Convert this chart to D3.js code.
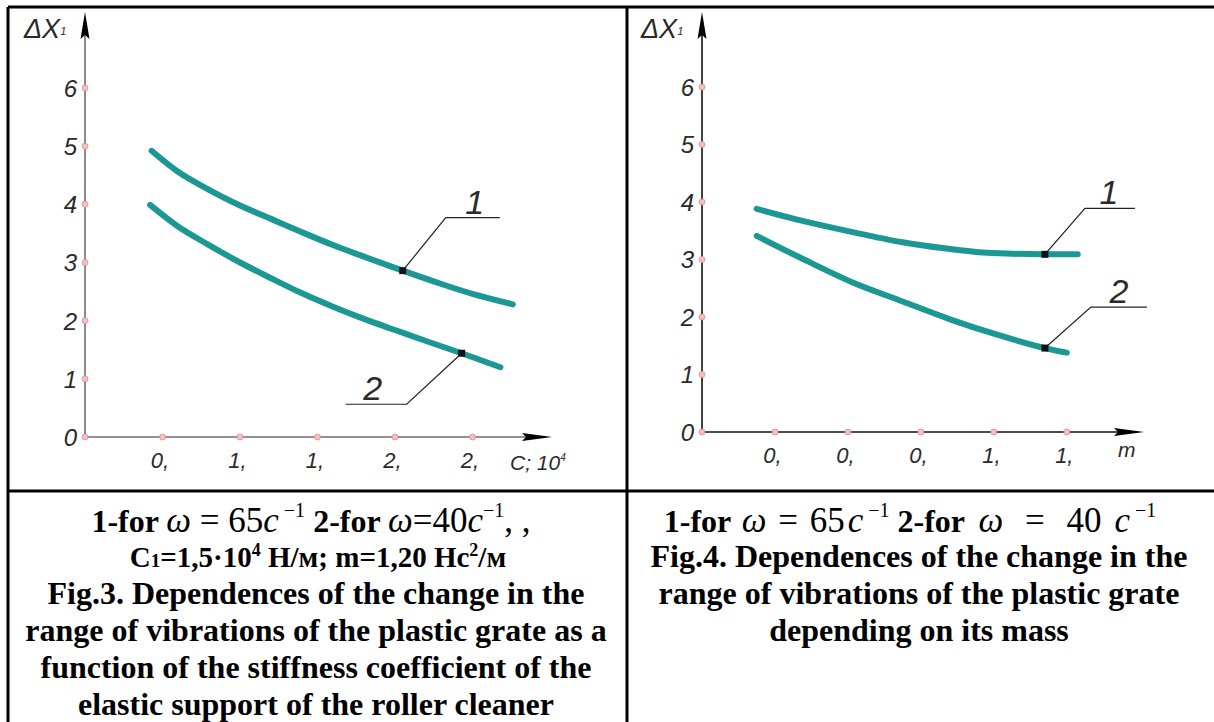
<!DOCTYPE html>
<html>
<head>
<meta charset="utf-8">
<script src="https://cdn.jsdelivr.net/npm/d3@7/dist/d3.min.js"></script>
<style>
  body{margin:0;background:#fff}
  .ax{font-family:"Liberation Sans",Arial,sans-serif;font-style:italic;fill:#2a2a2a}
  .cap{font-family:"Liberation Serif","Times New Roman",serif;font-weight:bold;fill:#000}
</style>
</head>
<body>
<svg id="chart" width="1214" height="722"></svg>
<script>
// ---- data ----
const yTicks=[0,1,2,3,4,5,6]

// Fig.3: dX vs C (x10^4)
const leftTickValues=[0.5,1,1.5,2,2.5]
const leftTickLabels=["0,","1,","1,","2,","2,"]
const left1X=[0.43,0.6,0.8,1.0,1.2,1.4,1.6,1.8,2.05,2.3,2.5,2.76]
const left1Y=[4.92,4.56,4.25,3.98,3.75,3.52,3.30,3.10,2.86,2.63,2.46,2.28]
const left2X=[0.42,0.6,0.8,1.0,1.2,1.4,1.6,1.8,2.0,2.2,2.43,2.68]
const left2Y=[3.99,3.62,3.30,3.00,2.73,2.47,2.24,2.03,1.84,1.65,1.44,1.20]
const leftMarkX=[2.05,2.43]

// Fig.4: dX vs m
const rightTickValues=[0.4,0.6,0.8,1.0,1.2]
const rightTickLabels=["0,","0,","0,","1,","1,"]
const right1X=[0.35,0.47,0.61,0.75,0.87,0.97,1.05,1.14,1.23]
const right1Y=[3.88,3.68,3.48,3.30,3.19,3.12,3.10,3.09,3.09]
const right2X=[0.35,0.47,0.61,0.75,0.88,1.0,1.14,1.2]
const right2Y=[3.41,3.03,2.61,2.27,1.96,1.71,1.46,1.38]
const rightMarkX=[1.14,1.14]

const teal="#1c9894"
const svg=d3.select("#chart")
svg.append("rect").attr("width",1214).attr("height",722).attr("fill","#fff")

// table frame
const frame=[[8,7,1214,7],[8,7,8,722],[627,7,627,722],[8,491,1214,491]]
svg.selectAll("line.frame").data(frame).enter().append("line")
  .attr("x1",d=>d[0]).attr("y1",d=>d[1]).attr("x2",d=>d[2]).attr("y2",d=>d[3])
  .attr("stroke","#000").attr("stroke-width",3)

function panel(o){
  const g=svg.append("g")
  const x=d3.scaleLinear().domain(o.xdom).range([o.x0,o.x1])
  const y=d3.scaleLinear().domain([0,6]).range([o.y0,o.y6])
  const xa=g.append("g").attr("transform",`translate(0,${o.y0})`)
    .call(d3.axisBottom(x).tickValues(o.tickValues).tickFormat((d,i)=>o.tickLabels[i]).tickSize(0).tickPadding(15))
  xa.select(".domain").attr("d",`M${o.x0},0H${o.arrowX-6}`).attr("stroke",o.axisColor).attr("stroke-width",1.6)
  xa.selectAll("text").attr("class","ax").attr("font-size",22).attr("dx",-3)
  const ya=g.append("g").attr("transform",`translate(${o.x0},0)`)
    .call(d3.axisLeft(y).tickValues(yTicks).tickFormat(d3.format("d")).tickSize(0).tickPadding(8))
  ya.select(".domain").attr("d",`M0,${o.y0}V${o.arrowY+6}`).attr("stroke",o.axisColor).attr("stroke-width",1.6)
  ya.selectAll("text").attr("class","ax").attr("font-size",24).attr("dy","0.35em")
  // arrows
  g.append("path").attr("d",`M${o.x0},${o.arrowY}L${o.x0+4.5},${o.arrowY+27}L${o.x0},${o.arrowY+23}L${o.x0-4.5},${o.arrowY+27}Z`).attr("fill","#000")
  g.append("path").attr("d",`M${o.arrowX},${o.y0}L${o.arrowX-30},${o.y0+4}L${o.arrowX-26},${o.y0}L${o.arrowX-30},${o.y0-4}Z`).attr("fill","#000")
  // tick dots
  g.selectAll("circle.yt").data(yTicks).enter().append("circle")
    .attr("cx",o.x0).attr("cy",d=>y(d)).attr("r",3).attr("fill","#f3c0c0").attr("stroke","#e08a8a").attr("stroke-width",0.8)
  g.selectAll("circle.xt").data(o.tickValues).enter().append("circle")
    .attr("cx",d=>x(d)).attr("cy",o.y0).attr("r",3).attr("fill","#f3c0c0").attr("stroke","#e08a8a").attr("stroke-width",0.8)
  // axis names
  const t=g.append("text").attr("class","ax").attr("x",o.x0-61).attr("y",38).attr("font-size",27)
  t.append("tspan").text("ΔX")
  t.append("tspan").attr("font-size",11).attr("dy",-3).text("1")
  const xl=g.append("text").attr("class","ax").attr("x",o.xlabX).attr("y",o.y0+33).attr("font-size",21)
  o.xlab(xl)
  // curves
  const line=d3.line().x(d=>x(d[0])).y(d=>y(d[1])).curve(d3.curveCatmullRom)
  o.series.forEach(s=>{
    g.append("path").datum(d3.zip(s.x,s.y)).attr("d",line)
      .attr("fill","none").attr("stroke",teal).attr("stroke-width",6).attr("stroke-linecap","round")
  })
  // markers with leader lines
  o.series.forEach((s,i)=>{
    const mx=o.markX[i]
    const k=s.x.indexOf(mx)
    const px=x(mx), py=y(s.y[k]), L=o.leaders[i]
    g.append("polyline").attr("points",`${px},${py} ${px+L[0]},${py+L[1]} ${px+L[2]},${py+L[1]}`)
      .attr("fill","none").attr("stroke","#222").attr("stroke-width",1.2)
    g.append("rect").attr("x",px-3.5).attr("y",py-3.5).attr("width",7).attr("height",7).attr("fill","#111")
    g.append("text").attr("class","ax").attr("x",px+L[3]).attr("y",py+L[1]-4).attr("text-anchor","middle")
      .attr("font-size",34).text(String(i+1))
  })
}

panel({xdom:[0,3],x0:85,x1:550,y0:437,y6:88,arrowX:552,arrowY:12,axisColor:"#6e6e6e",
  tickValues:leftTickValues,tickLabels:leftTickLabels,
  xlabX:510,xlab:t=>{t.append("tspan").text("C; 10");t.append("tspan").attr("font-size",10).attr("dy",-9).text("4")},
  series:[{x:left1X,y:left1Y},{x:left2X,y:left2Y}],markX:leftMarkX,
  leaders:[[43,-53,97,72],[-55,51,-116,-89]]})

panel({xdom:[0.2,1.45],x0:702,x1:1158,y0:432,y6:87,arrowX:1144,arrowY:12,axisColor:"#111",
  tickValues:rightTickValues,tickLabels:rightTickLabels,
  xlabX:1118,xlab:t=>{t.attr("y",432+25).text("m")},
  series:[{x:right1X,y:right1Y},{x:right2X,y:right2Y}],markX:rightMarkX,
  leaders:[[40,-46,90,64],[46,-41,102,74]]})

// ---- captions ----
const MF=35, SF=20
// omega = <num> c^-1 ; gap: extra px around '=' and before c
function omega(t,num,gap,lead){
  t.append("tspan").attr("font-style","italic").attr("font-weight","normal").attr("font-size",MF).attr("dx",lead).text("ω")
  t.append("tspan").attr("font-weight","normal").attr("font-size",MF).attr("dx",gap).text(" =")
  t.append("tspan").attr("font-weight","normal").attr("font-size",MF).attr("dx",gap).text(" "+num)
  t.append("tspan").attr("font-style","italic").attr("font-weight","normal").attr("font-size",MF).attr("dx",gap).text("c")
  t.append("tspan").attr("font-weight","normal").attr("font-size",SF).attr("dy",-15).text(" −1")
  t.append("tspan").attr("dy",15).text(" ")
}
const c1=svg.append("text").attr("class","cap").attr("x",311).attr("y",532).attr("text-anchor","middle").attr("font-size",32)
c1.append("tspan").text("1-for ")
omega(c1,"65",0,0)
c1.append("tspan").text("2-for ")
c1.append("tspan").attr("font-style","italic").attr("font-weight","normal").attr("font-size",MF).text("ω")
c1.append("tspan").attr("font-weight","normal").attr("font-size",MF).text("=40")
c1.append("tspan").attr("font-style","italic").attr("font-weight","normal").attr("font-size",MF).text("c")
c1.append("tspan").attr("font-weight","normal").attr("font-size",SF).attr("dy",-15).text("−1")
c1.append("tspan").attr("font-weight","normal").attr("font-size",MF).attr("dy",15).text(", ,")

const c2=svg.append("text").attr("class","cap").attr("x",318).attr("y",567).attr("text-anchor","middle").attr("font-size",29)
c2.append("tspan").text("C")
c2.append("tspan").attr("font-size",19).text("1")
c2.append("tspan").text("=1,5·10")
c2.append("tspan").attr("font-size",18).attr("dy",-11).text("4")
c2.append("tspan").attr("dy",11).text(" Н/м; m=1,20 Нс")
c2.append("tspan").attr("font-size",18).attr("dy",-11).text("2")
c2.append("tspan").attr("dy",11).text("/м")

const leftLines=["Fig.3. Dependences of the change in the","range of vibrations of the plastic grate as a","function of the stiffness coefficient of the","elastic support of the roller cleaner"]
svg.selectAll("text.l3").data(leftLines).enter().append("text").attr("class","cap")
  .attr("x",316).attr("y",(d,i)=>604+i*37).attr("text-anchor","middle").attr("font-size",32).text(d=>d)

const c3=svg.append("text").attr("class","cap").attr("x",910).attr("y",532).attr("text-anchor","middle").attr("font-size",32)
c3.append("tspan").text("1-for ")
omega(c3,"65",3,3)
c3.append("tspan").text("2-for ")
omega(c3,"40",13,6)

const rightLines=["Fig.4. Dependences of the change in the","range of vibrations of the plastic grate","depending on its mass"]
svg.selectAll("text.r3").data(rightLines).enter().append("text").attr("class","cap")
  .attr("x",919).attr("y",(d,i)=>567+i*37).attr("text-anchor","middle").attr("font-size",32).text(d=>d)
</script>
</body>
</html>
